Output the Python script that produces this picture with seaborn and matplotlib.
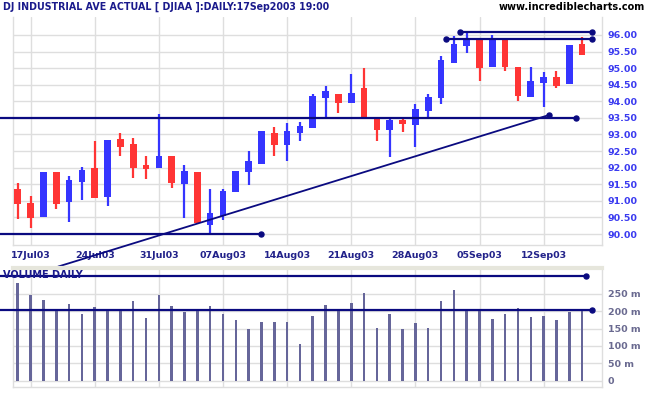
import matplotlib
matplotlib.use("Agg")
import matplotlib.pyplot as plt
import seaborn as sns
import pandas as pd
import numpy as np

# DJIAA daily, 16 Jul 2003 - 17 Sep 2003 (Labor Day skipped)
dates = pd.bdate_range("2003-07-16", "2003-09-17").drop(pd.Timestamp("2003-09-01"))

opens = [91.35, 90.94, 90.52, 91.88, 90.97, 91.57, 91.98, 91.12, 92.86, 92.71,
         92.08, 92.00, 92.35, 91.50, 91.87, 90.26, 90.55, 91.28, 91.86, 92.11,
         93.05, 92.68, 93.05, 93.21, 94.09, 94.22, 93.94, 94.39, 93.49, 93.14,
         93.44, 93.29, 93.72, 94.09, 95.16, 95.67, 95.90, 95.04, 95.85, 95.03,
         94.12, 94.56, 94.74, 94.51, 95.73]
highs = [91.54, 91.15, 91.88, 91.88, 91.75, 92.02, 92.80, 92.83, 93.05, 92.90,
         92.35, 93.62, 92.35, 92.08, 91.87, 91.35, 91.36, 91.90, 92.50, 93.11,
         93.23, 93.35, 93.38, 94.21, 94.47, 94.22, 94.82, 95.00, 93.49, 93.52,
         93.47, 93.92, 94.22, 95.37, 95.98, 96.10, 95.90, 96.00, 95.88, 95.03,
         95.04, 94.89, 94.91, 95.70, 95.95]
lows = [90.44, 90.19, 90.52, 90.76, 90.37, 91.03, 91.08, 90.84, 92.35, 91.70,
        91.66, 92.00, 91.40, 90.49, 90.34, 89.99, 90.42, 91.28, 91.49, 92.11,
        92.35, 92.21, 92.81, 93.21, 93.54, 93.66, 93.94, 93.48, 92.81, 92.33,
        93.08, 92.63, 93.49, 93.91, 95.16, 95.45, 94.62, 95.04, 94.92, 94.02,
        94.12, 93.82, 94.39, 94.51, 95.40]
closes = [90.90, 90.47, 91.88, 90.90, 91.63, 91.93, 91.08, 92.83, 92.62, 92.00,
          91.95, 92.36, 91.53, 91.91, 90.34, 90.62, 91.31, 91.90, 92.20, 93.11,
          92.68, 93.11, 93.26, 94.16, 94.31, 93.94, 94.24, 93.48, 93.14, 93.44,
          93.32, 93.76, 94.14, 95.25, 95.72, 95.90, 95.00, 95.90, 95.04, 94.16,
          94.61, 94.74, 94.46, 95.70, 95.40]
# volume in millions
volumes = [282, 247, 232, 206, 221, 193, 212, 203, 207, 230,
           180, 247, 216, 198, 203, 216, 193, 174, 149, 170,
           170, 170, 106, 186, 218, 207, 224, 252, 151, 193,
           149, 167, 151, 229, 261, 207, 203, 177, 193, 209,
           183, 186, 174, 198, 207]

tick_names = ["17Jul03", "24Jul03", "31Jul03", "07Aug03", "14Aug03",
              "21Aug03", "28Aug03", "05Sep03", "12Sep03"]
price_ticks = [90.0, 90.5, 91.0, 91.5, 92.0, 92.5, 93.0, 93.5, 94.0, 94.5, 95.0, 95.5, 96.0]
volume_ticks = [0, 50, 100, 150, 200, 250]

# drawn lines: (start index, start value, end index, end value)
support_low = (-1.4, 90.0, 18.95, 90.0)
support_mid = (-1.4, 93.5, 43.5, 93.5)
trend_line = (3.15, 89.02, 41.45, 93.59)
resist_high = (34.45, 96.08, 44.75, 96.08)
resist_low = (33.35, 95.87, 44.8, 95.87)
vol_top = (-1.4, 302, 44.3, 302)
vol_mid = (-1.4, 203, 44.8, 203)

UP = "#3535ff"
DOWN = "#ff3535"
NAVY = "#0a0a80"
GRID = "#dedede"

sns.set_theme(style="white")
plt.rcParams["font.family"] = ["DejaVu Sans"]

df = pd.DataFrame({"date": dates, "open": opens, "high": highs, "low": lows,
                   "close": closes, "volume": volumes})
df["idx"] = np.arange(len(df))
df["up"] = df["close"] >= df["open"]
df["color"] = np.where(df["up"], UP, DOWN)
tick_pos = [int(df.index[df["date"].dt.strftime("%d%b%y") == t][0]) for t in tick_names]

fig = plt.figure(figsize=(6.51, 3.95), dpi=100)
ax = fig.add_axes([13 / 651, 1 - 245 / 395, 589 / 651, 228 / 395])
axv = fig.add_axes([13 / 651, 1 - 386.7 / 395, 589 / 651, 118.7 / 395])

# candles
ax.vlines(df["idx"], df["low"], df["high"], colors=df["color"], lw=1.6, zorder=3)
body_bottom = df[["open", "close"]].min(axis=1)
body_height = (df["open"] - df["close"]).abs().clip(lower=0.06)
ax.bar(df["idx"], body_height, bottom=body_bottom, width=0.52, color=df["color"],
       linewidth=0, zorder=3)


def draw_line(a, seg, dots, lw=1.6):
    x0, y0, x1, y1 = seg
    a.plot([x0, x1], [y0, y1], color=NAVY, lw=lw, clip_on=False, zorder=4)
    if dots:
        xs = [x0, x1] if dots == "both" else [x1]
        ys = [y0, y1] if dots == "both" else [y1]
        a.plot(xs, ys, "o", color=NAVY, ms=3.6, clip_on=False, zorder=5)


draw_line(ax, support_low, "end")
draw_line(ax, support_mid, "end")
draw_line(ax, trend_line, "end", lw=1.3)
draw_line(ax, resist_high, "both")
draw_line(ax, resist_low, "both")

ax.set_xlim(-0.37, 45.55)
ax.set_ylim(89.67, 96.54)
ax.set_yticks(price_ticks)
ax.set_yticklabels([f"{v:.2f}" for v in price_ticks])
ax.yaxis.tick_right()
ax.tick_params(axis="y", length=0, pad=4, labelsize=6.8, labelcolor="#3a3af0")
ax.set_xticks(tick_pos)
ax.set_xticklabels(tick_names)
ax.tick_params(axis="x", direction="out", length=14, width=1, color=GRID, pad=-9.5,
               labelsize=6.8, labelcolor="#22228a")
for lab in ax.get_xticklabels() + ax.get_yticklabels():
    lab.set_fontweight("bold")
ax.grid(True, color=GRID, lw=1)
ax.set_axisbelow(True)
for side, sp in ax.spines.items():
    sp.set_color(GRID)
    sp.set_linewidth(1)
ax.spines["top"].set_visible(False)

# volume
sns.barplot(data=df, x="idx", y="volume", native_scale=True, color="#66669a",
            width=0.2, errorbar=None, saturation=1, linewidth=0, ax=axv, zorder=3)
draw_line(axv, vol_top, "end")
draw_line(axv, vol_mid, "end")
axv.set_xlim(-0.37, 45.55)
axv.set_ylim(-17, 324)
axv.set_xlabel("")
axv.set_ylabel("")
axv.set_yticks(volume_ticks)
axv.set_yticklabels(["0"] + [f"{v} m" for v in volume_ticks[1:]])
axv.yaxis.tick_right()
axv.tick_params(axis="y", length=0, pad=4, labelsize=6.8, labelcolor="#6a6a90")
axv.set_xticks(tick_pos)
axv.set_xticklabels([])
axv.tick_params(axis="x", direction="out", length=7, width=1, color=GRID)
for lab in axv.get_yticklabels():
    lab.set_fontweight("bold")
axv.grid(True, color=GRID, lw=1)
axv.set_axisbelow(True)
for side, sp in axv.spines.items():
    sp.set_color(GRID)
    sp.set_linewidth(1)
axv.spines["top"].set_color("#e6e6dc")
axv.spines["top"].set_linewidth(3)

fig.text(3 / 651, 1 - 7 / 395, "DJ INDUSTRIAL AVE ACTUAL [ DJIAA ]:DAILY:17Sep2003 19:00",
         ha="left", va="center", fontsize=6.85, fontweight="bold", color="#1a1a8c")
fig.text(645 / 651, 1 - 7 / 395, "www.incrediblecharts.com", ha="right", va="center",
         fontsize=7, fontweight="bold", color="black")
axv.text(3 / 651, 1 - 275 / 395, "VOLUME DAILY", transform=fig.transFigure, ha="left",
         va="center", fontsize=7, fontweight="bold", color="#1a1a8c", zorder=6)

fig.savefig("out.png", dpi=100, facecolor="white")
